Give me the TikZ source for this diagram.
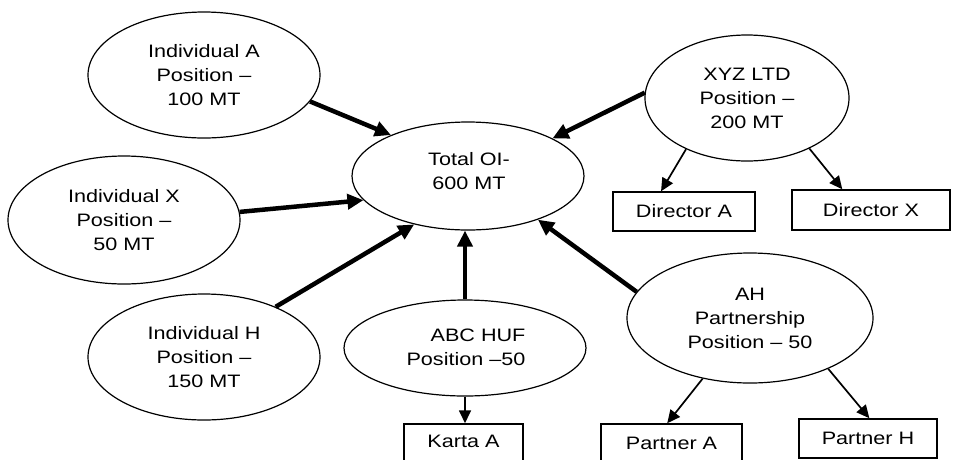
\documentclass[tikz,border=0pt]{standalone}
\usepackage{fontspec}
\setmainfont{Liberation Sans}[FakeStretch=1.2]
\usetikzlibrary{shapes.geometric,arrows.meta,calc}
\begin{document}
\begin{tikzpicture}[x=1pt,y=-1pt,
  oval/.style={ellipse,draw=black,line width=1.2pt,inner sep=0pt,align=center,font=\fontsize{18}{24}\selectfont},
  box/.style={rectangle,draw=black,line width=1.5pt,inner sep=0pt,font=\fontsize{18}{24}\selectfont},
  txt/.style={inner sep=0pt,align=center,font=\fontsize{18}{24}\selectfont},
  bigarrow/.style={line width=4.5pt,-{Triangle[length=16pt,width=15pt]}},
  smallarrow/.style={line width=1.7pt,-{Triangle[length=13pt,width=12pt]}}]
\useasboundingbox (0,0) rectangle (954,459);
\clip (0,0) rectangle (954,459);
% ellipses
\node[oval,minimum width=232pt,minimum height=126pt] (ia) at (204,75) {Individual A\\Position –\\100 MT};
\node[oval,minimum width=232pt,minimum height=128pt] (ix) at (124,220) {Individual X\\Position –\\50 MT};
\node[oval,minimum width=232pt,minimum height=126pt] (ih) at (204,357) {Individual H\\Position –\\150 MT};
\node[oval,minimum width=232pt,minimum height=108pt] (tot) at (468,176) {};
\node[txt] (tott) at (469,171) {Total OI-\\600 MT};
\node[oval,minimum width=204pt,minimum height=126pt] (xyz) at (747,98) {XYZ LTD\\Position –\\200 MT};
\node[oval,minimum width=242pt,minimum height=96pt] (abc) at (465,348) {};
\node[txt,align=right] (abct) at (466,347) {ABC HUF\\Position –50};
\node[oval,minimum width=246pt,minimum height=130pt] (ah) at (750,318) {AH\\Partnership\\Position – 50};
% boxes
\node[box,minimum width=142pt,minimum height=39pt] (dira) at (684,211.5) {Director A};
\node[box,minimum width=158pt,minimum height=40pt] (dirx) at (871,210) {Director X};
\node[box,minimum width=119pt,minimum height=40pt] (karta) at (463.5,444) {};
\node[txt] (kartat) at (463.5,441) {Karta A};
\node[box,minimum width=141pt,minimum height=40pt] (pa) at (671.5,444) {};
\node[txt] (pat) at (671.5,443) {Partner A};
\node[box,minimum width=138pt,minimum height=39pt] (ph) at (868,438.5) {Partner H};
% thick arrows
\draw[bigarrow] (ia.-14) -- (tot.152);
\draw[bigarrow] (ix.4) -- (tot.193);
\draw[bigarrow] (ih.35) -- (tot.222);
\draw[bigarrow] (abc.north) -- (abc.north |- tot.south);
\draw[bigarrow] (ah.167) -- (tot.-32);
\draw[bigarrow] (xyz.177) -- (tot.24);
% thin arrows
\draw[smallarrow] (xyz.220) -- ($(dira.north west)!0.34!(dira.north east)$);
\draw[smallarrow] (xyz.-39) -- ($(dirx.north west)!0.32!(dirx.north east)$);
\draw[smallarrow] (abc.south) -- (abc.south |- karta.north);
\draw[smallarrow] (ah.232) -- ($(pa.north west)!0.47!(pa.north east)$);
\draw[smallarrow] (ah.-33) -- ($(ph.north west)!0.51!(ph.north east)$);
\end{tikzpicture}
\end{document}
